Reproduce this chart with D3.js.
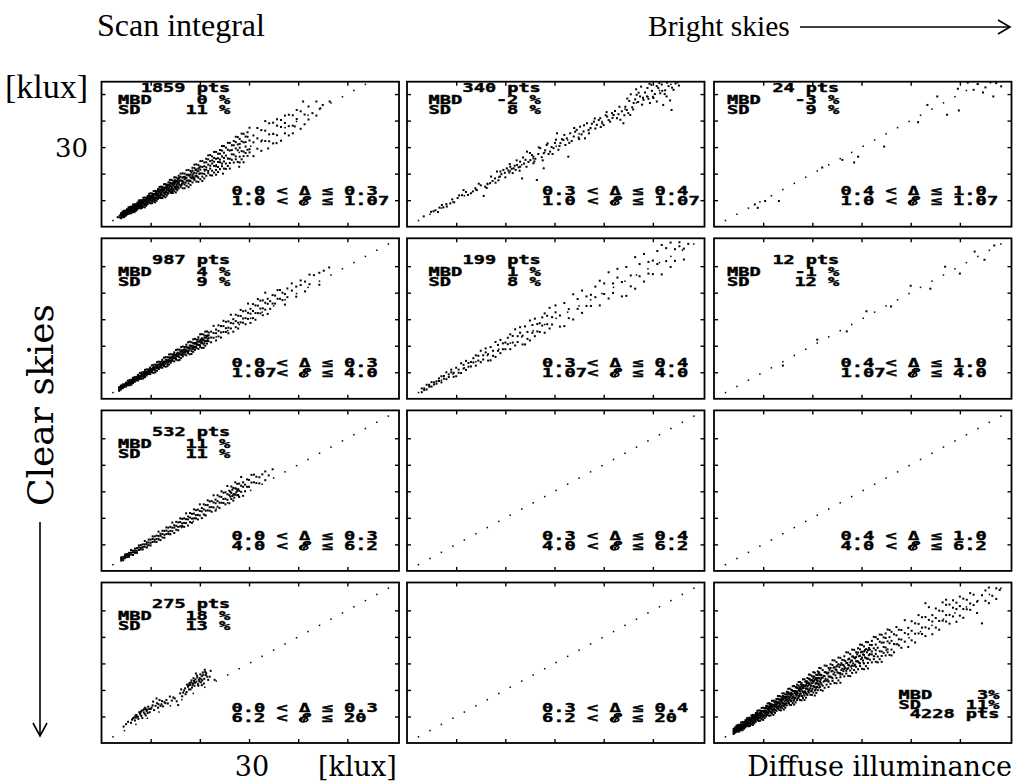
<!DOCTYPE html>
<html><head><meta charset="utf-8">
<script src="https://cdn.jsdelivr.net/npm/d3@7"></script>
<style>html,body{margin:0;background:#fff}svg{display:block}</style>
</head><body>
<svg id="fig" width="1026" height="783"></svg>
<script>
// ---------- panel annotations ----------
const deltaBins = ["0.0 < Δ ≤ 0.3", "0.3 < Δ ≤ 0.4", "0.4 < Δ ≤ 1.0"];
const epsBins = ["1.0 < ℰ ≤ 1.07", "1.07< ℰ ≤ 4.0", "4.0 < ℰ ≤ 6.2", "6.2 < ℰ ≤ 20"];
const nPts = [[1859, 340, 24], [987, 199, 12], [532, null, null], [275, null, 4228]];
const mbd  = [[0, -2, -3], [4, 1, -1], [11, null, null], [18, null, 3]];
const sd   = [[11, 8, 9], [9, 8, 12], [11, null, null], [13, null, 11]];
const tickVals = [10, 20, 30, 40, 50];

// ---------- scatter data, klux ----------
// each row: [diffuse illuminance, scan-integral values measured at that illuminance...]
const s11 = [[3.3,3.6],[3.7,4.2,3.5],[4.0,4.4,3.6,5.1,3.2,4.7],[4.3,4.3,5.1,3.6,5.7,4.7],[4.6,5.3,4.5,6.0,4.1,3.6],[4.9,5.1,6.0,4.6,5.5,4.1],[5.2,6.2,5.3,4.6,6.6,5.6],[5.5,5.3,6.1,7.3,5.0,6.8],[5.8,6.2,5.0,6.8,7.5,5.8],[6.1,6.6,5.7,7.6,5.1,7.0],[6.4,6.5,7.5,5.6,8.3,7.0],[6.7,7.6,6.6,8.5,6.1,5.5],[7.0,7.3,8.4,6.7,7.8,6.0],[7.3,8.6,7.5,6.5,9.1,7.8],[7.6,7.4,8.4,9.9,7.1,9.2],[7.9,8.4,6.9,9.1,10.0,7.9],[8.2,8.9,7.7,10.0,7.0,9.4],[8.5,8.6,9.9,7.5,10.9,9.3],[8.8,9.9,8.7,11.0,8.1,7.3],[9.1,9.5,10.9,8.7,10.2,7.9],[9.4,11.0,9.6,8.5,11.6,10.1],[9.7,9.5,10.7,12.4,9.1,11.7],[10.0,10.6,8.8,11.5,12.6,10.1],[10.3,11.1,9.8,12.5,8.9,11.7],[10.6,10.8,12.3,9.5,13.4,11.6],[10.9,12.3,10.8,13.5,10.1,9.2],[11.2,11.8,13.3,10.8,12.5,9.8],[11.5,13.4,11.8,10.5,14.2,12.3],[11.8,11.6,13.0,15.0,11.1,14.1],[12.1,12.8,10.8,13.9,15.1,12.2],[12.4,13.4,11.8,15.0,10.8,14.0],[12.7,12.9,14.7,11.5,16.0,13.9],[13.0,14.6,13.0,16.1,12.2,11.1],[13.3,14.0,15.8,12.9,14.8,11.8],[13.6,15.8,14.0,12.5,16.7,14.6],[13.9,13.7,15.3,17.6,13.2,16.6],[14.2,15.1,12.7,16.2,17.7,14.3],[14.5,15.7,13.9,17.4,12.7,16.4],[14.8,15.1,17.0,13.4,18.6,16.1],[15.1,16.9,15.1,18.6,14.2,12.9],[15.4,16.2,18.2,14.9,17.1,13.7],[15.7,18.2,16.2,14.4,19.2,16.8],[16.1,15.6,17.4,20.0,15.0,18.8],[16.5,17.2,14.5,18.5,20.1,16.3],[16.9,17.9,15.9,20.0,14.5,18.8],[17.3,17.3,19.6,15.4,21.3,18.5],[17.7,19.5,17.3,21.4,16.3,14.9],[18.1,18.6,21.0,17.2,19.7,15.7],[18.5,21.1,18.7,16.7,22.2,19.4],[18.9,18.3,20.4,23.4,17.6,22.1],[19.3,20.1,17.0,21.6,23.5,19.1],[19.7,20.9,18.5,23.2,16.9,21.9],[20.1,20.1,22.7,17.9,24.7,21.5],[20.5,22.5,20.1,24.8,18.9,17.2],[20.9,21.5,24.2,19.9,22.8,18.2],[21.3,24.3,21.5,19.2,25.6,22.4],[21.7,21.0,23.4,26.9,20.2,25.4],[22.1,23.0,19.4,24.7,27.0,21.9],[22.5,23.8,21.1,26.5,19.3,25.0],[22.9,22.9,25.9,20.4,28.2,24.5],[23.3,25.6,22.8,28.2,21.4,19.6],[23.7,24.4,27.5,22.5,25.8,20.6],[24.1,27.5,24.3,21.7,28.9,25.3],[24.5,23.8,26.5,30.4,22.8,28.7],[24.9,25.9,21.9,27.9,30.4,24.6],[25.3,26.8,23.8,29.8,21.8],[25.7,25.7,29.0,22.9,31.6],[26.1,28.7,25.6,31.6,24.0,21.9],[26.5,27.3,30.7,25.2,28.9],[26.9,30.7,27.2,24.2,32.3],[27.3,26.5,29.5,33.9,25.4,31.9],[27.7,28.8,24.4,31.0,33.8],[28.1,29.8,26.4,33.1,24.2,31.2],[28.5,28.5,32.2,25.4,35.1],[28.9,31.8,28.3,35.0,26.6,24.3],[29.3,30.2,34.0,27.8,31.9],[29.7,33.9,29.0,26.7,35.6],[30.1,29.2,32.5,37.3,28.0],[30.9,31.8,26.6,34.4],[31.7,33.3,29.4,37.2],[32.5,32.2,36.4,28.6],[33.3,36.2,32.3,39.8],[34.1,34.8,39.0,32.2],[34.9,39.2,35.0,31.4],[35.7,34.5,38.1,40.5],[36.5,37.6,32.4,40.2],[37.3,39.1,35.2,41.9],[38.1,37.9,42.2,34.4],[38.9,42.0,38.1,35.2],[39.7,40.6,44.0],[40.5,43.5,36.9],[41.3,42.3,38.6],[42.1,45.3,40.4],[42.9,42.8],[43.7,41.9,47.2],[45.0,45.9],[46.4,47.2],[41.0,47.2],[44.5,44.6],[39.3,37.8],[24.7,20.0],[28.0,22.6],[35.6,31.5],[33.9,29.5],
  [4.15,4.6,4.0,5.1],[4.45,4.5,5.2,4.0],[4.75,5.1,4.4,5.6],[5.05,5.6,4.9,6.1],[5.35,5.5,6.2,4.8],[5.65,6.1,5.3,6.6],[5.95,6.6,5.9,7.1],[6.25,6.4,7.2,5.7],[6.55,7.0,6.2,7.6],[6.85,7.6,6.8,8.2],[7.15,7.3,8.2,6.5],[7.45,8.0,7.1,8.6],[7.75,8.6,7.7,9.2],[8.05,8.2,9.2,7.4],[8.35,8.9,8.0,9.6],[8.65,9.6,8.6,10.2],[8.95,9.2,10.2,8.3],[9.25,9.9,8.9,10.6],[9.55,10.5,9.5,11.3],[9.85,10.1,11.2,9.1],[10.15,10.9,9.8,11.6],[10.45,11.5,10.4,12.3],[10.75,11.0,12.2,10.0],[11.05,11.8,10.6,12.7],[11.35,12.5,11.3,13.4],[11.65,12.0,13.2,10.9],[11.95,12.8,11.5,13.7],[12.25,13.5,12.2,14.4],[12.55,12.9,14.2,11.7],[12.85,13.8,12.4,14.7],[13.15,14.5,13.1,15.4],[13.45,13.8,15.2,12.6],[13.75,14.7,13.3,15.7],[14.05,15.5,14.0,16.5],[14.35,14.8,16.2,13.4],[14.65,15.7,14.2,16.7],[14.95,16.5,14.9,17.5],[15.25,15.7,17.2,14.3],[15.55,16.6,15.1,17.7],[15.85,17.4,15.8,18.5],[16.3,17.4,15.8],[16.7,16.7,18.7],[17.1,18.3,16.6],[17.5,17.5,19.6],[17.9,19.2,17.4],[18.3,18.3,20.5],[18.7,20.0,18.1],[19.1,19.1,21.4],[19.5,20.9,18.9],[19.9,19.9,22.3]];
const s12 = [[3.4,3.9],[4.9,5.6],[5.4,5.8],[5.8,6.2],[6.3,5.5],[6.6,7.2],[7.1,8.2],[7.4,7.3],[8.0,8.5],[8.1,7.6],[8.8,8.8],[9.2,10.3],[9.6,9.2],[10.3,10.8],[10.6,11.8],[11.2,11.9],[11.5,13.8],[12.0,13.1],[12.4,12.0],[13.0,12.6],[13.4,13.3],[13.9,14.5],[14.2,13.8],[14.6,16.2],[15.0,15.6],[15.6,11.6],[15.9,15.1],[16.2,14.6],[16.4,16.0],[16.9,16.4],[17.1,18.9],[17.4,17.2],[17.9,18.2],[18.0,16.6],[18.3,20.8],[18.6,17.5],[18.9,18.9],[19.0,20.8],[19.2,19.8],[19.6,21.4],[19.9,20.3],[20.0,18.6],[20.3,22.0],[20.6,21.2],[20.8,20.4],[20.9,23.6],[21.0,22.6],[21.3,21.8],[21.5,20.2],[21.7,22.0],[21.9,23.0],[22.1,21.4],[22.3,25.0],[22.4,23.3],[22.7,22.4],[22.9,21.1],[23.0,22.6],[23.0,24.5],[23.4,18.2],[23.6,26.1],[23.8,23.8],[24.1,25.2],[24.3,22.6],[24.4,28.3],[24.7,24.4],[25.0,27.8],[25.1,25.1],[25.4,27.0],[25.7,26.4],[25.7,23.9],[25.9,24.6],[26.1,25.6],[26.4,17.6],[26.7,27.4],[26.8,29.9],[27.1,29.6],[27.4,26.2],[27.6,25.0],[27.8,27.7],[27.8,22.0],[28.1,28.8],[28.4,30.8],[28.6,31.4],[28.8,27.4],[29.1,28.3],[29.4,30.0],[29.6,27.4],[29.8,29.6],[30.1,31.6],[30.3,32.8],[30.5,35.2],[30.8,29.0],[31.0,30.4],[31.2,31.5],[31.5,33.0],[31.8,32.7],[32.0,34.6],[32.2,30.8],[32.5,33.3],[32.8,26.4],[33.0,31.6],[33.2,35.2],[33.5,32.3],[33.9,34.0],[34.0,37.2],[34.2,35.8],[34.5,36.5],[34.9,33.6],[35.0,33.0],[35.2,37.7],[35.5,34.8],[35.9,35.9],[36.0,38.2],[36.2,33.3],[36.6,39.0],[36.9,36.4],[37.0,35.2],[37.3,37.1],[37.6,38.8],[38.0,39.6],[38.2,40.8],[38.3,37.0],[38.6,38.4],[39.0,40.2],[39.3,40.9],[39.4,37.6],[39.7,39.0],[40.0,38.3],[40.4,42.0],[40.6,43.2],[40.7,41.5],[41.0,40.2],[41.3,39.6],[41.7,42.8],[41.8,41.0],[42.0,42.1],[42.3,43.6],[42.7,40.9],[43.0,42.4],[43.2,45.2],[43.4,40.3],[43.7,43.5],[44.0,39.0],[44.2,42.0],[44.4,45.2],[44.7,44.0],[44.8,48.3],[45.0,42.8],[45.2,47.4],[45.4,42.1],[45.5,49.9],[45.8,45.0],[46.0,44.2],[46.1,46.6],[46.4,48.0],[46.6,51.8],[46.7,49.7],[47.0,47.0],[47.1,50.5],[47.4,49.1],[47.6,52.8],[47.8,46.0],[48.0,48.6],[48.1,47.8],[48.4,50.6],[48.8,49.1],[48.9,52.3],[49.1,48.2],[49.3,53.9],[49.4,46.6],[49.7,53.5],[49.8,51.2],[50.0,49.0],[50.1,48.5],[50.4,50.0],[50.8,47.2],[50.8,53.0],[51.1,52.3],[51.3,54.2],[51.5,50.3],[51.8,53.6],[51.9,51.2],[52.1,45.9],[52.4,50.0],[52.5,51.4],[52.8,49.1],[52.9,54.3],[53.2,53.0],[53.5,47.6],[53.8,44.0],[53.9,52.4],[54.2,51.6],[54.6,54.0],[55.0,54.4],[55.3,53.2]];
const s13 = [[8.3,8.4],[8.9,7.1],[10.4,9.7],[13.2,9.7],[22.0,22.3],[26.1,25.2],[28.5,24.2],[29.3,26.4],[34.6,30.2],[41.5,39.4],[43.4,45.9],[45.4,49.1],[47.4,42.2],[49.6,52.0],[49.8,43.8],[51.6,54.3],[52.8,51.6],[53.6,53.8],[54.7,50.6],[55.2,52.5],[56.2,54.4],[56.8,49.1],[57.4,54.1],[58.4,52.9]];
const s21 = [[3.6,3.9,3.4,4.4,3.0],[3.95,4.0,4.6,3.5,5.0],[4.3,4.8,4.3,5.4,4.0],[4.65,4.9,5.5,4.5,5.2],[5.0,5.8,5.1,4.6,6.1],[5.35,5.3,5.9,6.8,5.1],[5.7,6.0,5.1,6.5,7.1],[6.05,6.5,5.8,7.2,5.3],[6.4,6.5,7.3,5.9,7.9],[6.75,7.5,6.8,8.2,6.4],[7.1,7.5,8.3,6.9,7.9],[7.45,8.6,7.7,6.9,9.0],[7.8,7.8,8.6,9.7,7.5],[8.15,8.6,7.5,9.2,9.9],[8.5,9.2,8.3,10.1,7.7],[8.85,9.1,10.1,8.2,10.9],[9.2,10.2,9.3,11.1,8.8],[9.55,10.0,11.1,9.4,10.5],[9.9,11.3,10.2,9.3,11.8],[10.25,10.3,11.2,12.6,9.9],[10.6,11.2,9.8,12.0,12.8],[10.95,11.8,10.7,12.9,10.0],[11.3,11.6,12.8,10.6,13.8],[11.65,12.9,11.8,14.0,11.2],[12.0,12.6,13.9,11.8,13.2],[12.35,14.1,12.8,11.7,14.7],[12.7,12.7,13.9,15.5,12.3],[13.05,13.8,12.1,14.7,15.7],[13.4,14.4,13.1,15.7,12.3],[13.75,14.1,15.6,12.9,16.7],[14.1,15.6,14.3,16.8,13.6],[14.45,15.2,16.7,14.3,15.9],[14.8,16.9,15.3,14.1,17.5],[15.15,15.2,16.5,18.4,14.8],[15.5,16.4,14.5,17.4,18.6],[15.85,17.0,15.6,18.5,14.6],[16.2,16.7,18.3,15.3,19.5],[16.55,18.3,16.8,19.7,16.0],[16.9,17.8,19.5,16.7,18.6],[17.25,19.6,17.9,16.4,20.4],[17.6,17.7,19.2,21.3,17.2],[17.95,19.0,16.8,20.1,21.5],[18.3,19.7,18.0,21.3,16.9],[18.65,19.2,21.0,17.7,22.4],[19.0,21.0,19.3,22.6,18.4],[19.35,20.4,22.3,19.2,21.2],[19.7,22.4,20.4,18.8,23.2],[20.05,20.2,21.9,24.3,19.6],[20.4,21.6,19.2,22.8,24.4],[20.75,22.3,20.5,24.2,19.2],[21.1,21.7,23.8,20.0,25.3],[21.45,23.7,21.8,25.4,20.8],[21.8,22.9,25.0,21.7,23.9],[22.3,25.3,23.1,21.3],[22.8,23.0,24.8,27.5],[23.3,24.7,22.0,26.1],[23.8,25.6,23.5,27.7],[24.3,25.0,27.4,23.1],[24.8,27.4,25.2,29.4],[25.3,26.6,29.0,25.2],[25.8,29.2,26.8,24.7],[26.3,26.5,28.6,31.7],[26.8,28.4,25.3,30.0],[27.3,29.3,27.0,31.7],[27.8,28.7,31.3,26.5],[28.3,31.2,28.8,33.5],[28.8,30.3,33.0,28.7],[29.3,33.2,30.4,28.1],[29.8,30.1,32.4,35.9],[30.3,32.1,28.6,33.9],[30.8,33.1,30.4,35.7],[31.3,32.3,35.2,29.8],[31.8,35.1,32.3,37.6],[32.3,34.0,37.0,32.2],[32.8,37.1,34.1,31.5],[33.3,33.6,36.2,40.0],[33.8,35.8,32.0,37.7],[34.3,36.8,33.9],[34.8,35.9,39.1],[35.3,38.9,35.9],[35.8,37.7,41.0],[36.3,41.0,37.7],[36.8,37.2,40.0],[37.3,39.5,35.5],[37.8,41.6,38.3],[38.7,40.8,43.5],[39.6,38.5,42.3],[40.5,42.9,44.6],[41.4,44.2,40.5],[42.3,43.2,46.8],[43.2,46.6],[44.3,43.0,47.5],[45.2,48.3],[46.3,49.5],
  [3.78,4.1,3.8],[4.13,4.3,4.7],[4.48,4.9,4.5],[4.83,5.0,5.4],[5.18,5.6,5.2],[5.53,5.7,6.2],[5.88,6.4,5.9],[6.23,6.5,7.0],[6.58,7.2,6.6],[6.93,7.2,7.7],[7.28,7.9,7.4],[7.63,7.9,8.5],[7.98,8.7,8.1],[8.33,8.7,9.3],[8.68,9.4,8.8],[9.03,9.4,10.0],[9.38,10.2,9.5],[9.73,10.1,10.8],[10.08,10.9,10.3],[10.43,10.9,11.6],[10.78,11.7,11.0],[11.13,11.6,12.4],[11.48,12.4,11.7],[11.83,12.3,13.1],[12.18,13.2,12.4],[12.53,13.1,13.9],[12.88,14.0,13.1],[13.23,13.8,14.7],[13.58,14.7,13.8],[13.93,14.5,15.4],[14.28,15.5,14.6],[14.63,15.3,16.2],[14.98,16.2,15.3],[15.33,16.0,17.0],[15.68,17.0,16.0],[16.03,16.7,17.7],[16.38,17.7,16.7],[16.73,17.5,18.5],[17.08,18.5,17.4],[17.43,18.2,19.3],[17.78,19.3,18.2],[18.13,18.9,20.0],[18.48,20.0,18.9],[18.83,19.7,20.8],[19.18,20.8,19.6],[19.53,20.4,21.6],[19.88,21.5,20.3],[20.23,21.1,22.3],[20.58,22.3,21.0],[20.93,21.9,23.1],[21.28,23.0,21.8],[21.63,22.6,23.9]];
const s22 = [[3.0,3.9,2.5],[3.5,3.9,3.3],[4.0,3.5,5.3],[4.5,4.6,5.3],[5.0,6.3,4.6],[5.5,6.2,5.4],[6.0,5.7,6.6],[6.5,6.7,7.7],[7.0,6.2,8.5],[7.5,8.6,7.6],[8.0,10.0,7.4],[8.5,8.2,9.2],[9.0,10.0,11.0],[9.5,9.8,8.3],[10.0,11.7,8.5],[10.5,11.0,9.8],[11.0,9.7,13.4],[11.5,11.4,12.8],[12.0,14.3,10.9],[12.5,13.5,12.1],[13.0,12.2,13.9],[13.5,13.7,15.3],[14.0,12.5,16.4],[14.5,16.2,14.4],[15.0,18.1,13.8],[15.5,14.8,16.4],[16.0,17.5,19.0],[16.5,16.8,14.4],[17.0,19.5,14.5],[17.5,18.1,16.2],[18.0,15.8,21.4],[18.5,18.1,20.3],[19.0,22.2,17.2],[19.5,20.9,18.7],[20.0,18.7,21.2],[20.5,20.6,23.0],[21.0,18.7,24.3],[21.5,23.7,21.2],[22.0,26.2,20.1],[22.5,21.4,23.6],[23.0,24.9,27.0],[23.5,23.8,20.5],[24.0,27.3,20.5],[24.5,25.2,22.6],[25.0,22.0,29.5],[25.5,24.9,27.8],[26.0,30.2,23.6],[26.5,28.2,25.4],[27.0,25.2,28.5],[27.5,27.6,30.7],[28.0,24.9,32.2],[28.5,31.3,28.1],[29.0,34.3,26.5],[29.5,28.0,30.8],[30.2,32.6,35.2],[31.1,31.4,27.2],[32.0,36.1,27.4],[32.9,33.8,30.4],[33.8,29.9,39.4],[34.7,33.9,37.6],[35.6,40.8,32.4],[36.5,38.6,35.0],[37.4,35.0,39.2],[38.3,38.3,42.3],[39.2,35.2,44.5],[40.1,43.5,39.5],[41.0,47.7,37.8],[41.9,39.9,43.5],[42.8,45.7,49.0],[43.7,44.0,38.6],[44.6,49.7,38.8],[45.5,46.5,42.4],[46.4,41.5,53.4],[47.3,46.2,50.8],[48.2,54.6,44.2],[49.1,51.6,47.2],[50.0,47.0,52.1],[50.9,50.8,55.7],[51.8,46.9,58.0],[52.7,56.8,51.9],[53.6,58.9,49.7],[54.5,52.0,56.4],[55.4,57.5,59.0],[56.3,56.6,52.5],[57.2,58.4]];
const s23 = [[14.0,12.5],[21.0,22.3],[27.0,25.4],[31.0,33.0],[36.0,34.8],[40.0,42.6],[44.0,41.5],[47.0,49.8],[50.0,47.2],[53.0,55.5],[55.0,52.4],[57.0,57.8]];
const s31 = [[4.0,4.5,3.9,5.1],[4.4,4.6,5.3,4.0],[4.8,5.6,4.9,6.2],[5.2,5.7,6.4,5.2],[5.6,6.8,6.0,5.3],[6.0,6.2,6.9,7.9],[6.4,7.0,6.0,7.6],[6.8,7.6,6.8,8.4],[7.2,7.6,8.6,6.8],[7.6,8.8,7.9,9.6],[8.0,8.7,9.7,8.1],[8.4,10.0,9.0,8.1],[8.8,9.1,10.0,11.3],[9.2,10.1,8.8,10.8],[9.6,10.7,9.7,11.8],[10.0,10.6,11.8,9.6],[10.4,12.0,10.9,13.0],[10.8,11.8,13.0,11.0],[11.2,13.3,12.0,10.9],[11.6,12.1,13.2,14.8],[12.0,13.2,11.6,14.0],[12.4,13.9,12.6,15.1],[12.8,13.6,15.1,12.5],[13.2,15.2,13.9,16.4],[13.6,14.8,16.3,13.9],[14.0,16.6,15.1,13.8],[14.4,15.0,16.3,18.2],[14.8,16.3,14.3,17.2],[15.2,17.0,15.5,18.5],[15.6,16.6,18.3,15.3],[16.0,18.4,16.8,19.8],[16.4,17.9,19.6,16.9],[16.8,19.8,18.1,16.6],[17.2,18.0,19.5,21.7],[17.6,19.4,17.1,20.5],[18.0,20.1,18.4,21.8],[18.4,19.7,21.5,18.1],[18.8,21.6,19.8,23.2],[19.2,21.0,22.9,19.8],[19.6,23.1,21.1,19.4],[20.0,20.9,22.6,25.1],[20.4,22.4,19.9,23.7],[20.8,23.2,21.3,25.1],[21.2,22.7,24.8,20.9],[21.6,24.8,22.8,26.6],[22.0,24.0,26.2,22.7],[22.4,26.3,24.1,22.3],[22.8,23.9,25.8,28.5],[23.2,25.5,22.7,26.9],[23.6,26.3,24.2,28.5],[24.0,25.7,28.0,23.7],[24.4,27.9,25.7,30.0],[24.8,27.1,29.5,25.6],[25.2,29.6,27.2,25.1],[25.6,26.8,28.9,32.0],[26.0,28.6,25.5,30.2],[26.2,28.0,29.8],[26.4,29.4,27.1,31.8],[26.6,28.2,30.6],[26.8,28.7,31.3,26.5],[27.0,29.0,27.6],[27.2,31.1,28.7,33.4],[27.4,29.6,31.0],[27.6,30.2,32.8,28.5],[27.8,28.6,30.8],[28.0,32.9,30.2,27.9],[28.4,29.8,32.1,35.4],[28.8,31.7,28.3,33.4],[29.2,32.5,30.0],[29.6,31.7,34.5],[30.0,34.3,31.7],[30.5,33.3,36.2],[31.0,36.3,33.4],[31.5,33.1,35.5],[32.1,35.3,33.0],[32.7,36.4],[33.3,34.2,37.5],[34.0,36.0],[34.8,38.3]];
const s41 = [[4.5,6.2],[5.0,7.1],[5.4,8.0],[6.0,7.6],[6.2,8.8],[6.4,9.3],[6.6,9.6],[6.8,8.5],[6.9,10.3],[7.0,9.6],[7.1,10.6],[7.2,10.0],[7.4,9.9],[7.5,9.1],[7.7,11.6],[7.8,11.2],[7.9,10.8],[8.0,11.8],[8.1,10.2],[8.2,12.2],[8.3,9.4],[8.5,12.4],[8.6,11.5],[8.7,12.9],[8.8,11.0],[8.9,13.3],[9.0,10.4,12.6],[9.2,12.0],[9.3,12.6],[9.4,11.3],[9.5,13.7],[9.7,12.9],[9.8,11.6],[10.0,12.8],[10.2,13.4],[10.4,14.2],[10.5,15.6],[10.7,12.4],[11.0,14.0],[11.2,16.8],[11.3,15.0],[11.5,13.3],[11.6,14.6],[11.8,16.2],[12.0,14.0],[12.2,14.6],[12.3,15.8],[12.5,13.8],[12.8,15.4],[13.0,15.0],[13.2,16.2],[13.5,14.9],[13.9,17.5],[14.3,16.0],[14.6,17.2],[14.9,16.8],[15.3,15.7],[15.6,14.3],[16.0,18.7],[16.2,20.2],[16.4,17.6],[16.6,19.0],[16.8,19.8],[17.0,20.6],[17.1,18.4],[17.3,19.2],[17.4,22.0],[17.6,21.2],[17.7,21.8],[17.8,20.2],[17.9,22.6],[18.0,21.9],[18.1,20.2],[18.2,22.8],[18.3,23.6],[18.4,20.9],[18.5,21.8],[18.6,22.5],[18.7,24.4],[18.8,23.4],[18.9,21.6],[19.0,22.7],[19.1,24.0],[19.2,26.2],[19.3,23.1],[19.4,25.4],[19.5,24.7],[19.6,22.2],[19.7,21.6],[19.8,23.8],[19.9,23.2],[20.0,24.4],[20.1,25.9],[20.2,22.9],[20.3,24.0],[20.4,25.2,21.8],[20.5,23.6],[20.6,26.6],[20.7,25.7],[20.8,22.4],[20.9,24.2],[21.0,27.6],[21.1,26.8],[21.2,25.6],[21.3,26.3],[21.5,25.0],[21.7,23.8],[22.0,25.0],[22.2,27.2],[23.0,23.8]];
const s43 = [[4.0,4.4,5.3,3.9,4.8,3.4],[4.3,5.5,4.6,3.9,5.9,4.9],[4.6,4.7,5.4,6.6,4.4,6.1],[4.9,5.5,4.3,6.1,6.8,5.1],[5.2,6.0,5.0,6.9,4.4,6.4],[5.5,5.8,6.9,5.0,7.7,6.4],[5.8,7.0,6.0,7.9,5.5,4.8],[6.1,6.7,7.9,6.1,7.3,5.4],[6.4,8.1,6.9,5.9,8.6,7.3],[6.7,6.9,7.9,9.3,6.5,8.7],[7.0,7.8,6.3,8.6,9.5,7.4],[7.3,8.4,7.2,9.5,6.4,8.9],[7.6,8.1,9.4,7.0,10.4,8.8],[7.9,9.5,8.2,10.6,7.6,6.8],[8.2,9.1,10.5,8.2,9.7,7.4],[8.5,10.6,9.2,8.0,11.3,9.6],[8.8,9.1,10.3,12.1,8.6,11.3],[9.1,10.2,8.3,11.1,12.3,9.6],[9.4,10.8,9.3,12.2,8.4,11.4],[9.7,10.4,12.0,9.0,13.2,11.2],[10.0,12.0,10.4,13.3,9.7,8.7],[10.3,11.4,13.1,10.4,12.2,9.4],[10.6,13.2,11.5,10.0,14.0,12.0],[10.9,11.3,12.7,14.9,10.7,13.9],[11.2,12.5,10.3,13.6,15.0,11.9],[11.5,13.2,11.5,14.8,10.4,13.9],[11.8,12.6,14.5,11.1,15.9,13.6],[12.1,14.4,12.7,16.0,11.8,10.6],[12.4,13.7,15.7,12.5,14.6,11.4],[12.7,15.7,13.8,12.1,16.6,14.4],[13.0,13.5,15.2,17.7,12.9,16.6],[13.3,14.9,12.4,16.2,17.7,14.1],[13.6,15.5,13.6,17.5,12.3,16.4],[13.9,14.9,17.0,13.1,18.7,16.1],[14.2,16.9,14.9,18.7,13.9,12.6],[14.5,16.1,18.3,14.7,17.1,13.3],[14.8,18.3,16.1,14.2,19.3,16.7],[15.1,15.7,17.6,20.4,15.0,19.2],[15.4,17.2,14.4,18.7,20.5,16.4],[15.7,17.9,15.8,20.1,14.3,18.9],[16.0,17.2,19.6,15.1,21.4,18.5],[16.3,19.4,17.1,21.5,16.0,14.5],[16.6,18.4,20.9,16.9,19.5,15.3],[16.9,20.9,18.3,16.2,22.0,19.1],[17.2,17.7,19.9,23.0,16.9,21.6],[17.5,19.4,16.2,21.0,23.0,18.4],[17.8,20.2,17.7,22.6,16.1,21.2],[18.1,19.3,21.9,17.0,24.0,20.7],[18.4,21.7,19.2,24.0,17.9,16.2],[18.7,20.5,23.3,18.8,21.8,17.1],[19.0,23.2,20.4,18.1,24.5,21.3],[19.3,19.9,22.3,25.8,19.0,24.2],[19.6,21.8,18.2,23.5,25.7,20.6],[19.9,22.5,19.8,25.2,18.1,23.7],[20.2,21.5,24.5,19.0,26.7,23.1],[20.5,23.9,21.2,26.5,19.8,17.9],[20.8,22.6,25.7,20.8,24.0,18.9],[21.1,25.6,22.5,19.9,27.0,23.4],[21.4,21.9,24.5,28.3,20.9,26.6],[21.7,23.9,20.0,25.8,28.2,22.7],[22.1,24.6,21.6,27.5,19.7],[22.5,23.5,26.7,20.8,29.2,25.2],[22.9,26.4,23.4,29.1,22.0],[23.3,25.1,28.3,23.1,26.6,21.1],[23.7,28.3,25.0,22.3,29.7],[24.1,24.4,27.2,31.2,23.4,29.4],[24.5,26.6,22.6,28.6,31.1],[24.9,27.5,24.5,30.5,22.5,28.8],[25.3,26.4,29.7,23.6,32.2],[25.7,29.4,26.3,32.1,24.8,22.7],[26.1,28.0,31.3,25.9,29.5],[26.5,31.2,27.9,25.1,32.7,28.9],[26.9,27.2,30.1,34.2,26.2],[27.3,29.4,25.3,31.5,34.1,28.2],[27.7,30.4,27.3,33.5,25.2],[28.1,29.2,32.6,26.4,35.2,31.0],[28.5,32.2,29.1,35.1,27.5],[28.9,30.8,34.2,28.7,32.4,26.6],[29.3,34.1,30.7,27.8,35.7],[29.7,30.0,32.9,37.1,29.0,35.3],[30.1,32.2,28.0,34.4,37.0],[30.5,33.2,30.0,36.4,27.8,34.5],[30.9,32.0,35.4,29.0,38.1],[31.3,35.0,31.8,38.0,30.2,28.1],[31.7,33.5,37.0,31.4,35.2],[32.1,36.9,33.4,30.4,38.5,34.5],[32.5,32.7,35.7,40.0,31.6],[32.9,35.0,30.6,37.1,39.9,33.6],[33.3,35.9,32.6,39.2,30.4],[33.7,34.6,38.2,31.6,40.9],[34.1,37.8,34.5,40.8,32.8,30.6],[34.5,36.2,39.8,34.0,37.9],[34.9,39.6,36.0,33.0,41.3],[35.3,35.3,38.3,42.8,34.2],[35.7,37.6,33.2,39.9,42.6],[36.1,38.5,35.2,41.9,33.0],[36.6,37.3,41.0,34.2],[37.1,40.6,37.2,43.7],[37.6,39.1,42.7,36.8],[38.1,42.6,39.0,35.9],[38.8,38.2,41.5,46.3],[39.5,41.0,36.2,43.4],[40.2,42.3,38.7,45.9],[40.9,41.2,45.1,37.9],[41.6,44.9,41.3,48.2],[42.3,43.5,47.4,41.1],[43.0,47.5,43.6,40.3,52.7],[43.7,43.1,46.4,51.2],[44.4,45.8,41.0,48.2],[45.1,47.1,43.5,50.7],[45.8,46.0,49.9,42.7],[46.5,49.7,46.1,53.0],[47.2,48.2,52.1,45.8,54.0],[47.9,52.2,48.3,45.0],[48.6,47.7,51.0,53.8],[49.3,50.5,45.7,52.9],[50.0,51.6,48.0,55.2],[50.7,50.5,54.4,47.2],[51.4,54.0,50.4],[52.1,52.6,56.5,50.2],[52.8,55.9,52.0],[53.5,53.3,49.0],[54.5,45.1,55.7],[55.2,57.5,53.6],[55.9,52.7,58.6],[56.6,55.5],[57.4,58.3,54.3],[58.1,57.7],
  [4.15,4.9,4.3,5.4],[4.45,4.8,5.5,4.2],[4.75,5.5,4.7,5.8],[5.05,6.0,5.3,6.6],[5.35,5.8,6.6,5.1],[5.65,6.5,5.7,6.8],[5.95,7.0,6.2,7.7],[6.25,6.8,7.7,6.0],[6.55,7.5,6.6,7.9],[6.85,8.0,7.2,8.8],[7.15,7.8,8.8,6.9],[7.45,8.5,7.5,8.9],[7.75,9.1,8.2,9.9],[8.05,8.8,9.9,7.9],[8.35,9.6,8.5,10.0],[8.65,10.1,9.1,11.0],[8.95,9.8,10.9,8.8],[9.25,10.6,9.4,11.1],[9.55,11.2,10.1,12.1],[9.85,10.8,12.0,9.7],[10.15,11.6,10.4,12.1],[10.45,12.2,11.0,13.2],[10.75,11.8,13.1,10.6],[11.05,12.6,11.3,13.2],[11.35,13.3,12.0,14.4],[11.65,12.8,14.2,11.5],[11.95,13.7,12.2,14.2],[12.25,14.3,13.0,15.5],[12.55,13.8,15.3,12.4],[12.85,14.7,13.2,15.3],[13.15,15.4,13.9,16.6],[13.45,14.7,16.3,13.3],[13.75,15.7,14.1,16.4],[14.05,16.4,14.9,17.7],[14.35,15.7,17.4,14.2],[14.65,16.7,15.0,17.4],[14.95,17.4,15.9,18.8],[15.25,16.7,18.5,15.1],[15.55,17.8,16.0,18.5],[15.85,18.5,16.8,19.9],[16.15,17.7,19.6,16.0],[16.45,18.8,16.9,19.6],[16.75,19.5,17.8,21.1],[17.05,18.7,20.7,16.9],[17.35,19.7,17.7,20.4],[17.65,20.4,18.6,22.0],[17.95,19.5,21.6,17.7],[18.25,20.7,18.6,21.5],[18.55,21.4,19.5,23.1],[18.85,20.5,22.6,18.6],[19.15,21.7,19.5,22.6],[19.45,22.5,20.5,24.2],[19.75,21.5,23.7,19.5],[20.05,22.7,20.5,23.6],[20.35,23.3,21.2,25.1],[20.65,22.3,24.6,20.2],[20.95,23.5,21.2,24.5],[21.25,24.3,22.2,26.2],[21.55,23.2,25.6,21.1],[21.85,24.5,22.1,25.5],[22.3,25.3,23.1],[22.7,24.2,26.7],[23.1,26.1,23.9],[23.5,25.0,27.6],[23.9,27.0,24.7],[24.3,25.9,28.4],[24.7,27.8,25.5],[25.1,26.7,29.2],[25.5,28.6,26.3],[25.9,27.5,30.1],[26.3,29.4,27.1],[26.7,28.3,30.9],[27.1,30.2,27.9],[27.5,29.2,31.8],[27.9,31.1,28.8],[28.3,30.0,32.6],[28.7,31.9,29.5],[29.1,30.8,33.4],[29.5,32.7,30.3],[29.9,31.6,34.2],[30.3,33.4,31.1],[30.7,32.3,35.0],[31.1,34.2,31.8],[31.5,33.1,35.8]];

const scatter = [[s11, s12, s13], [s21, s22, s23], [s31, [], []], [s41, [], s43]];

// ---------- layout ----------
const colLeft = [101.5, 407, 714];
const panelW = 297.5;
const rowBottom = [226.7, 398.8, 570.9, 743];
const panelH = 160.5;
const firstRowTop = 81.7;          // top row is cropped above this line
const domainMax = 60.5;            // klux, both axes
const textShift = [0, 5, -3.5];    // per-column offset of the panel captions
const ADV = 11.35;                 // character cell of the panel captions
const DOT = 2.0;                   // data marker size, px

const svg = d3.select("#fig");
svg.append("rect").attr("width", 1026).attr("height", 783).attr("fill", "#fff");

// dotted identity line y = x
const refDots = d3.range(1, 26).map(k => k * 7 / 3);

const toPoints = rows => rows.flatMap(([x, ...ys]) => ys.map(v => [x, v]));

function monoLine(g, str, x0, yc) {
  const lead = str.length - str.trimStart().length;
  const s = str.trim();
  g.append("text")
    .attr("x", x0 + lead * ADV).attr("y", yc + 4.4)
    .attr("textLength", s.length * ADV - 1.2)
    .attr("lengthAdjust", "spacingAndGlyphs")
    .style("white-space", "pre")
    .attr("font-family", "'DejaVu Sans Mono','Liberation Mono',monospace")
    .attr("font-weight", "bold")
    .attr("font-size", 12)
    .attr("fill", "#000")
    .attr("stroke", "#000").attr("stroke-width", 0.4)
    .text(s);
}

const pad = (v, n) => String(v).padStart(n, " ");

for (let r = 0; r < 4; r++) {
  for (let c = 0; c < 3; c++) {
    const left = colLeft[c], bottom = rowBottom[r];
    const top = r === 0 ? firstRowTop : bottom - panelH;
    const x = d3.scaleLinear().domain([0, domainMax]).range([left, left + panelW]);
    const y = d3.scaleLinear().domain([0, domainMax]).range([bottom, bottom - panelH]);
    const id = `clip-${r}-${c}`;
    svg.append("clipPath").attr("id", id)
      .append("rect").attr("x", left).attr("y", top).attr("width", panelW).attr("height", bottom - top);

    const g = svg.append("g").attr("clip-path", `url(#${id})`);
    g.append("g").selectAll("rect").data(refDots).join("rect")
      .attr("x", d => x(d) - 0.75).attr("y", d => y(d) - 0.75)
      .attr("width", 1.5).attr("height", 1.5).attr("fill", "#000");
    g.append("g").selectAll("rect").data(toPoints(scatter[r][c])).join("rect")
      .attr("x", d => x(d[0]) - DOT / 2).attr("y", d => y(d[1]) - DOT / 2)
      .attr("width", DOT).attr("height", DOT).attr("fill", "#000");

    // inward ticks on all four sides
    const axes = [
      [d3.axisBottom(x), `translate(0,${bottom})`],
      [d3.axisTop(x), `translate(0,${top})`],
      [d3.axisLeft(y), `translate(${left},0)`],
      [d3.axisRight(y), `translate(${left + panelW},0)`]
    ];
    axes.forEach(([ax, tr]) => {
      const a = svg.append("g").attr("transform", tr)
        .call(ax.tickValues(tickVals).tickSize(-4).tickFormat(""));
      a.select(".domain").remove();
      a.selectAll(".tick line").attr("stroke", "#000").attr("stroke-width", 1.4);
    });

    svg.append("rect").attr("x", left).attr("y", top)
      .attr("width", panelW).attr("height", bottom - top)
      .attr("fill", "none").attr("stroke", "#000").attr("stroke-width", 1.8);

    const tg = svg.append("g");
    if (r === 3 && c === 2) {
      const x0 = left + 184.5;
      monoLine(tg, "MBD" + pad(mbd[r][c], 5) + "%", x0, bottom - 48);
      monoLine(tg, "SD" + pad(sd[r][c], 6) + "%", x0, bottom - 38.5);
      monoLine(tg, pad(nPts[r][c], 5) + " pts", x0, bottom - 29);
      continue;
    }
    if (nPts[r][c] !== null) {
      const x0 = left + 16.5 + textShift[c];
      monoLine(tg, pad(nPts[r][c], 6) + " pts", x0, bottom - 139);
      monoLine(tg, "MBD" + pad(mbd[r][c], 5) + " %", x0, bottom - 127.5);
      monoLine(tg, "SD" + pad(sd[r][c], 6) + " %", x0, bottom - 117.5);
    }
    const bx = left + 130 + textShift[c];
    monoLine(tg, deltaBins[c], bx, bottom - 35.8);
    monoLine(tg, epsBins[r], bx, bottom - 25.8);
  }
}

// ---------- outer labels ----------
const serif = "'DejaVu Serif','Liberation Serif',serif";
const narrow = "'Liberation Serif','Times New Roman',serif";
svg.append("text").attr("x", 97).attr("y", 36).attr("font-family", narrow).attr("font-size", 32).text("Scan integral");
svg.append("text").attr("x", 648).attr("y", 36).attr("font-family", narrow).attr("font-size", 29.5).text("Bright skies");
svg.append("text").attr("x", 5).attr("y", 98).attr("font-family", narrow).attr("font-size", 34).text("[klux]");
svg.append("text").attr("x", 88).attr("y", 157).attr("text-anchor", "end").attr("font-family", serif).attr("font-size", 26).text("30");
svg.append("text").attr("x", 252).attr("y", 776).attr("text-anchor", "middle").attr("font-family", serif).attr("font-size", 27).text("30");
svg.append("text").attr("x", 318).attr("y", 776).attr("font-family", serif).attr("font-size", 27).text("[klux]");
svg.append("text").attr("x", 1012).attr("y", 776).attr("text-anchor", "end").attr("font-family", serif).attr("font-size", 27).text("Diffuse illuminance");
svg.append("text").attr("transform", "translate(53,405) rotate(-90)").attr("text-anchor", "middle")
  .attr("font-family", serif).attr("font-size", 36).text("Clear skies");

// direction arrows
const arrows = svg.append("g").attr("stroke", "#000").attr("stroke-width", 1.6).attr("fill", "none");
arrows.append("line").attr("x1", 800).attr("y1", 27).attr("x2", 1009).attr("y2", 27);
arrows.append("polyline").attr("points", "998,20 1010,27 998,34");
arrows.append("line").attr("x1", 40).attr("y1", 522).attr("x2", 40).attr("y2", 735);
arrows.append("polyline").attr("points", "33,723 40,736 47,723");
</script>
</body></html>
